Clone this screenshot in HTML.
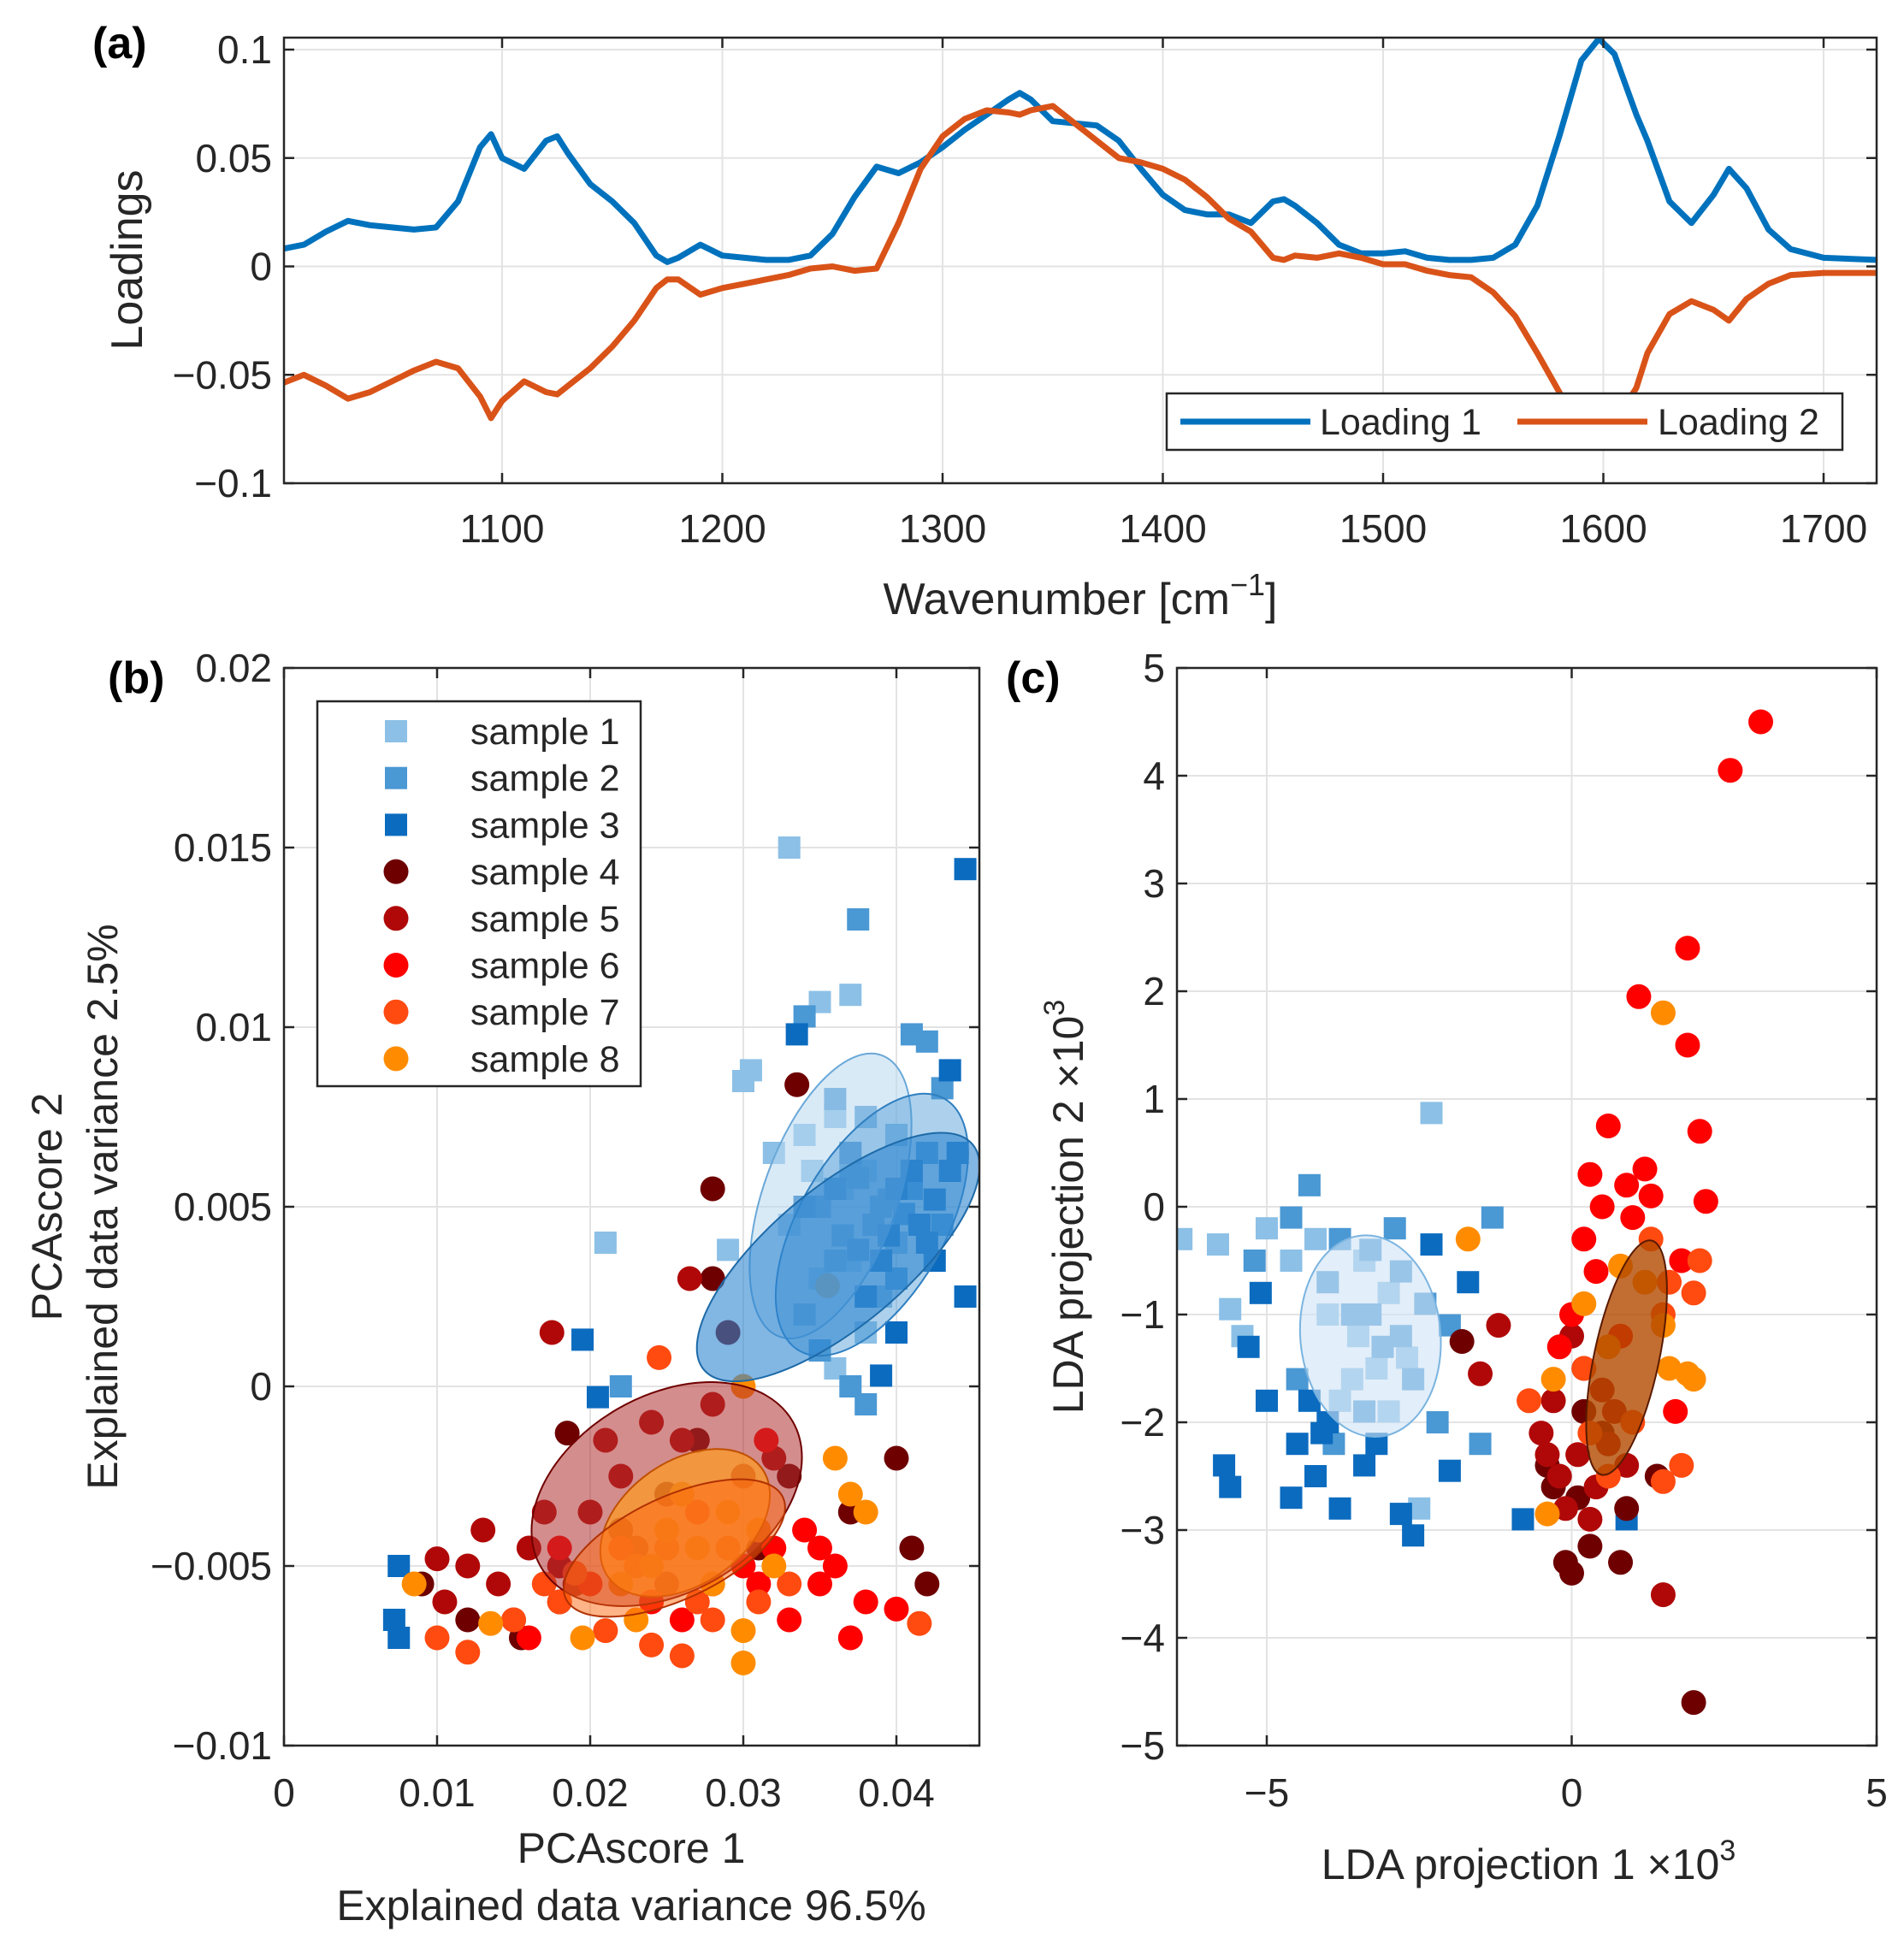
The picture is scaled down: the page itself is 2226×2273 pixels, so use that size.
<!DOCTYPE html>
<html><head><meta charset="utf-8">
<style>
html,body{margin:0;padding:0;background:#fff;}
svg{display:block;font-family:"Liberation Sans",sans-serif;}
</style></head>
<body>
<svg id="fig" width="2226" height="2273" viewBox="0 0 2226 2273" xmlns="http://www.w3.org/2000/svg">
<rect width="2226" height="2273" fill="#fff"/>
</svg>
<script>
// ---------- Panel (a) data ----------
const wavenumbers=[1000,1010,1020,1030,1040,1050,1060,1070,1080,1090,1095,1100,1110,1120,1125,1130,1140,1150,1160,1170,1175,1180,1190,1200,1210,1220,1230,1240,1250,1260,1270,1280,1290,1300,1310,1320,1330,1335,1340,1350,1360,1370,1380,1390,1400,1410,1420,1430,1440,1450,1455,1460,1470,1480,1490,1500,1510,1520,1530,1540,1550,1560,1570,1580,1590,1598,1605,1615,1620,1630,1640,1650,1657,1665,1675,1685,1700,1724];
const loading1=[0.008,0.01,0.016,0.021,0.019,0.018,0.017,0.018,0.03,0.055,0.061,0.05,0.045,0.058,0.06,0.052,0.038,0.03,0.02,0.005,0.002,0.004,0.01,0.005,0.004,0.003,0.003,0.005,0.015,0.032,0.046,0.043,0.048,0.055,0.063,0.07,0.077,0.08,0.077,0.067,0.066,0.065,0.058,0.045,0.033,0.026,0.024,0.024,0.02,0.03,0.031,0.028,0.02,0.01,0.006,0.006,0.007,0.004,0.003,0.003,0.004,0.01,0.028,0.06,0.095,0.105,0.098,0.07,0.058,0.03,0.02,0.033,0.045,0.036,0.017,0.008,0.004,0.003];
const loading2=[-0.054,-0.05,-0.055,-0.061,-0.058,-0.053,-0.048,-0.044,-0.047,-0.06,-0.07,-0.062,-0.053,-0.058,-0.059,-0.055,-0.047,-0.037,-0.025,-0.01,-0.006,-0.006,-0.013,-0.01,-0.008,-0.006,-0.004,-0.001,0,-0.002,-0.001,0.02,0.045,0.06,0.068,0.072,0.071,0.07,0.072,0.074,0.066,0.058,0.05,0.048,0.045,0.04,0.032,0.022,0.016,0.004,0.003,0.005,0.004,0.006,0.004,0.001,0.001,-0.002,-0.004,-0.005,-0.012,-0.023,-0.04,-0.058,-0.075,-0.08,-0.072,-0.056,-0.04,-0.022,-0.016,-0.02,-0.025,-0.015,-0.008,-0.004,-0.003,-0.003];
const aXTicks=[1100,1200,1300,1400,1500,1600,1700];
const aYTicks=[0.1,0.05,0,-0.05,-0.1];
const aYTickLabels=["0.1","0.05","0","\u22120.05","\u22120.1"];

// ---------- Panel (b) data (PCA scores) ----------
const pcaX=[
[0.033,0.035,0.037,0.030,0.021,0.029,0.036,0.038,0.040,0.034,0.032,0.038,0.036,0.039,0.033,0.035,0.0305,0.037,0.0345,0.0365],
[0.0375,0.041,0.042,0.043,0.034,0.036,0.038,0.040,0.042,0.037,0.035,0.039,0.041,0.043,0.036,0.034,0.037,0.038,0.022,0.035,0.040,0.0385,0.0395,0.0365,0.0405,0.0375],
[0.0445,0.0335,0.0435,0.044,0.0435,0.0445,0.040,0.042,0.037,0.039,0.041,0.036,0.038,0.039,0.0195,0.0205,0.0075,0.0072,0.0075,0.034,0.040,0.0425,0.0415,0.0395,0.0375,0.0425],
[0.0335,0.028,0.0185,0.040,0.041,0.042,0.028,0.029,0.033,0.037,0.025,0.0155,0.009,0.012,0.022,0.031,0.018,0.027],
[0.0265,0.0175,0.010,0.0105,0.013,0.014,0.016,0.018,0.020,0.022,0.024,0.026,0.028,0.015,0.012,0.019,0.023,0.030,0.032,0.021,0.017,0.025],
[0.0315,0.034,0.035,0.037,0.040,0.016,0.020,0.024,0.028,0.030,0.032,0.036,0.038,0.033,0.026,0.022,0.018,0.027,0.031,0.035],
[0.0415,0.010,0.012,0.015,0.018,0.021,0.024,0.026,0.027,0.029,0.025,0.023,0.031,0.019,0.033,0.0245,0.017,0.028],
[0.0085,0.0135,0.0195,0.023,0.030,0.030,0.036,0.037,0.038,0.025,0.027,0.029,0.031,0.024,0.028,0.026,0.0355,0.032,0.022,0.030]];
const pcaY=[
[0.015,0.0107,0.0109,0.0085,0.004,0.0038,0.0075,0.006,0.004,0.007,0.0065,0.0015,0.0005,0.0025,0.0045,0.003,0.0088,0.0035,0.006,0.0055],
[0.013,0.0098,0.0096,0.0083,0.0103,0.008,0.0075,0.007,0.0065,0.006,0.005,0.005,0.0055,0.0045,0.0035,0.002,0.0,-0.0005,0.0,0.001,0.003,0.0045,0.0052,0.0042,0.0048,0.0058],
[0.0144,0.0098,0.0088,0.0065,0.006,0.0025,0.0055,0.004,0.0065,0.0035,0.006,0.0055,0.0025,0.0003,0.0013,-0.0003,-0.005,-0.0065,-0.007,0.005,0.0015,0.0035,0.0045,0.0042,0.0038,0.0052],
[0.0084,0.0055,-0.0013,-0.002,-0.0045,-0.0055,0.003,0.0015,-0.0025,-0.0035,-0.003,-0.007,-0.0055,-0.0065,-0.004,-0.0045,-0.006,-0.0015],
[0.003,0.0015,-0.0048,-0.006,-0.004,-0.0055,-0.0045,-0.005,-0.0035,-0.0025,-0.001,-0.0015,-0.0005,-0.0065,-0.005,-0.0055,-0.0045,-0.0025,-0.002,-0.0015,-0.0035,-0.0055],
[-0.0015,-0.004,-0.0055,-0.007,-0.0062,-0.007,-0.0055,-0.006,-0.0055,-0.005,-0.0045,-0.005,-0.006,-0.0065,-0.0065,-0.0045,-0.0045,-0.0035,-0.0055,-0.0045],
[-0.0066,-0.007,-0.0074,-0.0065,-0.006,-0.0068,-0.0072,-0.0075,-0.006,-0.0045,-0.0045,-0.005,-0.006,-0.0052,-0.0055,0.0008,-0.0055,-0.0065],
[-0.0055,-0.0066,-0.007,-0.0065,-0.0077,-0.0068,-0.002,-0.003,-0.0035,-0.004,-0.0045,-0.0035,-0.004,-0.005,-0.0055,-0.003,0.0028,-0.005,-0.0055,0.0]];
const bXTicks=[0,0.01,0.02,0.03,0.04];
const bXTickLabels=["0","0.01","0.02","0.03","0.04"];
const bYTicks=[0.02,0.015,0.01,0.005,0,-0.005,-0.01];
const bYTickLabels=["0.02","0.015","0.01","0.005","0","\u22120.005","\u22120.01"];
const bEllCX=[0.0357,0.0384,0.0362,0.025,0.0262,0.0255];
const bEllCY=[0.0053,0.0045,0.0036,-0.003,-0.0038,-0.0045];

// ---------- Panel (c) data (LDA) ----------
const ldaX=[
[-6.4,-5.8,-5.6,-5.0,-4.6,-4.0,-3.5,-3.0,-2.3,-2.5,-3.2,-3.8,-4.2,-2.7,-3.4,-5.4,-3.0,-3.6],
[-4.6,-4.3,-3.8,-3.3,-2.8,-2.4,-2.0,-1.3,-3.6,-3.1,-2.6,-2.2,-1.5,-3.9,-4.5,-5.2,-4.0,-3.4,-2.9,-3.3,-2.8],
[-5.1,-5.3,-5.0,-5.7,-5.6,-4.5,-4.2,-4.6,-3.8,-3.4,-2.8,-2.6,-2.0,-1.7,-2.3,-0.8,0.9,-4.3,-4.1,-3.2,-4.0],
[2.0,-1.8,-0.3,-0.1,0.0,0.3,0.8,1.4,0.5,0.2,-0.4,0.9,0.1],
[1.5,-1.2,-1.5,-0.5,-0.2,0.1,0.4,0.6,-0.3,0.2,0.0,0.7,-0.1,0.3,0.9,-0.4,0.5],
[3.1,2.6,1.9,1.1,1.9,2.1,0.6,0.3,1.2,2.2,0.5,1.0,0.2,1.8,0.0,-0.2,1.7,0.8,0.4,1.3,0.9],
[1.3,1.6,2.1,1.5,1.8,-0.7,0.2,1.0,0.6,1.5,0.3,2.0],
[1.5,-1.7,1.5,1.9,2.0,1.6,-0.4,0.6,0.2,-0.3,1.2,0.8]];
const ldaY=[
[-0.3,-0.35,-0.95,-0.2,-0.5,-1.0,-1.2,-0.8,0.87,-2.8,-1.5,-1.8,-0.3,-1.4,-0.5,-1.2,-1.9,-1.6],
[-0.1,0.2,-0.3,-0.4,-0.6,-0.9,-1.1,-0.1,-1.0,-1.3,-1.6,-2.0,-2.2,-2.2,-1.6,-0.5,-0.7,-1.9,-0.2,-1.0,-1.2],
[-0.8,-1.3,-1.8,-2.4,-2.6,-2.2,-2.5,-2.7,-2.8,-2.4,-2.85,-3.05,-2.45,-0.7,-0.35,-2.9,-2.9,-1.8,-2.1,-2.2,-2.0],
[-4.6,-1.25,-2.6,-3.3,-3.4,-3.15,-3.3,-2.5,-2.1,-1.9,-2.4,-2.8,-2.7],
[-3.6,-1.1,-1.55,-2.1,-2.5,-2.3,-2.6,-2.2,-1.8,-1.5,-1.2,-1.9,-2.8,-2.9,-2.4,-2.3,-1.7],
[4.5,4.05,2.4,1.95,1.5,0.7,0.75,0.3,0.35,0.05,0.0,-0.1,-0.3,-0.5,-1.0,-1.3,-1.9,-1.2,-0.6,0.1,0.2],
[-0.3,-0.7,-0.5,-1.0,-2.4,-1.8,-1.5,-2.0,-2.5,-2.55,-2.1,-0.8],
[1.8,-0.3,-1.1,-1.55,-1.6,-1.5,-2.85,-1.3,-0.9,-1.6,-0.7,-0.55]];
const cXTicks=[-5,0,5];
const cXTickLabels=["\u22125","0","5"];
const cYTicks=[5,4,3,2,1,0,-1,-2,-3,-4,-5];
const cYTickLabels=["5","4","3","2","1","0","\u22121","\u22122","\u22123","\u22124","\u22125"];
const cEllCX=[-3.3,0.9];
const cEllCY=[-1.2,-1.4];

const sampleNames=["sample 1","sample 2","sample 3","sample 4","sample 5","sample 6","sample 7","sample 8"];
const sampleColors=["#8cc0e6","#4a98d4","#0b6bbf","#6e0000","#b00808","#ff0000","#ff4a10","#ff8c00"];

// ---------- helpers ----------
const NS="http://www.w3.org/2000/svg";
const svg=document.getElementById('fig');
function mk(tag,attrs,parent){const e=document.createElementNS(NS,tag);for(const k in attrs)e.setAttribute(k,attrs[k]);(parent||svg).appendChild(e);return e;}
function txt(s,attrs,parent){const e=mk('text',attrs,parent);e.textContent=s;return e;}
function scale(d0,d1,p0,p1){return v=>p0+(v-d0)/(d1-d0)*(p1-p0);}

function axesFrame(g,L,T,R,B,xs,ys,xt,yt,name){
  const grid=mk('g',{},g);
  
  
  xt.forEach(v=>{const x=xs(v);mk('line',{x1:x,y1:T,x2:x,y2:B,stroke:'#e3e3e3','stroke-width':2},grid);});
  yt.forEach(v=>{const y=ys(v);mk('line',{x1:L,y1:y,x2:R,y2:y,stroke:'#e3e3e3','stroke-width':2},grid);});
}
function axesBox(g,L,T,R,B,xs,ys,xt,xl,yt,yl,name,xlabY){
  const ax=mk('g',{},g);
  
  
  mk('rect',{x:L,y:T,width:R-L,height:B-T,fill:'none',stroke:'#262626','stroke-width':2.5},ax);
  xt.forEach((v,i)=>{const x=xs(v);
    mk('line',{x1:x,y1:B,x2:x,y2:B-12,stroke:'#262626','stroke-width':2.5},ax);
    mk('line',{x1:x,y1:T,x2:x,y2:T+12,stroke:'#262626','stroke-width':2.5},ax);
    const t=txt(xl[i],{x:x,y:xlabY,'text-anchor':'middle','font-size':46,fill:'#262626'},ax);
    
    
  });
  yt.forEach((v,i)=>{const y=ys(v);
    mk('line',{x1:L,y1:y,x2:L+12,y2:y,stroke:'#262626','stroke-width':2.5},ax);
    mk('line',{x1:R,y1:y,x2:R-12,y2:y,stroke:'#262626','stroke-width':2.5},ax);
    const t=txt(yl[i],{x:L-14,y:y+16,'text-anchor':'end','font-size':46,fill:'#262626'},ax);
    
    
  });
}
function marker(g,k,x,y){
  if(k<3){return mk('rect',{x:x-13,y:y-13,width:26,height:26,fill:sampleColors[k]},g);}
  return mk('circle',{cx:x,cy:y,r:14.5,fill:sampleColors[k]},g);
}

// ---------- Panel (a) ----------
const aL=332,aT=44,aR=2194,aB=565;
const axs=scale(1100,1700,587,2132);
const ays=scale(0.1,-0.1,58,565);
const gA=mk('g',{});


axesFrame(gA,aL,aT,aR,aB,axs,ays,aXTicks,aYTicks,'panel-a');
const clipA=mk('clipPath',{id:'clipA'},gA);mk('rect',{x:aL,y:aT,width:aR-aL,height:aB-aT},clipA);
[loading1,loading2].forEach((arr,si)=>{
  const d=arr.map((v,i)=>(i?'L':'M')+axs(wavenumbers[i]).toFixed(1)+','+ays(v).toFixed(1)).join(' ');
  const p=mk('path',{d:d,fill:'none',stroke:si?'#d95319':'#0072bd','stroke-width':7,'stroke-linejoin':'round','clip-path':'url(#clipA)'},gA);
  
  
});
axesBox(gA,aL,aT,aR,aB,axs,ays,aXTicks,aXTicks.map(String),aYTicks,aYTickLabels,'panel-a',634);
const legA=mk('g',{},gA);


mk('rect',{x:1364,y:460,width:790,height:66,fill:'#fff',stroke:'#262626','stroke-width':2.5},legA);
mk('line',{x1:1380,y1:493,x2:1532,y2:493,stroke:'#0072bd','stroke-width':7},legA);
txt('Loading 1',{x:1543,y:508,'font-size':43,fill:'#262626'},legA);
mk('line',{x1:1774,y1:493,x2:1926,y2:493,stroke:'#d95319','stroke-width':7},legA);
txt('Loading 2',{x:1938,y:508,'font-size':43,fill:'#262626'},legA);
let t;
t=txt('Loadings',{x:0,y:0,'font-size':52,fill:'#262626','text-anchor':'middle',transform:'translate(166,304) rotate(-90)'});

t=mk('text',{x:1263,y:718,'font-size':52,fill:'#262626','text-anchor':'middle'});
t.innerHTML='Wavenumber [cm<tspan dy="-22" font-size="36">−1</tspan><tspan dy="22">]</tspan>';

t=txt('(a)',{x:108,y:68,'font-size':52,'font-weight':'bold',fill:'#000'});


// ---------- Panel (b) ----------
const bL=332,bT=781,bR=1145,bB=2041;
const bxs=scale(0,0.04,332,1048);
const bys=scale(0.02,-0.01,781,2041);
const gB=mk('g',{});


axesFrame(gB,bL,bT,bR,bB,bxs,bys,bXTicks,bYTicks,'panel-b');
const clipB=mk('clipPath',{id:'clipB'},gB);mk('rect',{x:bL,y:bT,width:bR-bL,height:bB-bT},clipB);
const ptsB=mk('g',{'clip-path':'url(#clipB)'},gB);
for(let k=0;k<8;k++){
  const sg=mk('g',{},ptsB);
  
  
  pcaX[k].forEach((v,i)=>{const m=marker(sg,k,bxs(v),bys(pcaY[k][i]));
    
    });
}
const bEllStyle=[[175,78,-70,'#b9d8f0',0.55,'#6aa8d8'],[170,85,-60,'#4a98d4',0.45,'#2f7fc0'],[205,80,-40,'#2f86d0',0.6,'#1d6aa8'],[170,115,-30,'#b03030',0.55,'#700000'],[110,72,-35,'#ff9a20',0.7,'#c05000'],[140,60,-25,'#ff6a10',0.5,'#b03000']];
bEllCX.forEach((cx,i)=>{const s=bEllStyle[i];const x=bxs(cx),y=bys(bEllCY[i]);
  const e=mk('ellipse',{cx:x,cy:y,rx:s[0],ry:s[1],transform:`rotate(${s[2]} ${x} ${y})`,fill:s[3],'fill-opacity':s[4],stroke:s[5],'stroke-width':2},ptsB);
  
  
});
axesBox(gB,bL,bT,bR,bB,bxs,bys,bXTicks,bXTickLabels,bYTicks,bYTickLabels,'panel-b',2112);
const legB=mk('g',{},gB);


mk('rect',{x:371,y:820,width:378,height:450,fill:'#fff',stroke:'#262626','stroke-width':2.5},legB);
sampleNames.forEach((n,k)=>{const y=855+k*54.7;
  const e=mk('g',{},legB);
  
  
  if(k<3)mk('rect',{x:450,y:y-13,width:26,height:26,fill:sampleColors[k]},e);
  else mk('circle',{cx:463,cy:y,r:14.5,fill:sampleColors[k]},e);
  txt(n,{x:550,y:y+15,'font-size':43,fill:'#262626'},e);
});
t=txt('PCAscore 1',{x:738,y:2178,'font-size':50,fill:'#262626','text-anchor':'middle'});

t=txt('Explained data variance 96.5%',{x:738,y:2245,'font-size':50,fill:'#262626','text-anchor':'middle'});

t=txt('PCAscore 2',{x:0,y:0,'font-size':50,fill:'#262626','text-anchor':'middle',transform:'translate(72,1411) rotate(-90)'});

t=txt('Explained data variance 2.5%',{x:0,y:0,'font-size':50,fill:'#262626','text-anchor':'middle',transform:'translate(137,1411) rotate(-90)'});

t=txt('(b)',{x:126,y:810,'font-size':52,'font-weight':'bold',fill:'#000'});


// ---------- Panel (c) ----------
const cL=1376,cT=781,cR=2194,cB=2041;
const cxs=scale(-5,5,1481,2194);
const cys=scale(5,-5,781,2041);
const gC=mk('g',{});


axesFrame(gC,cL,cT,cR,cB,cxs,cys,cXTicks,cYTicks,'panel-c');
const clipC=mk('clipPath',{id:'clipC'},gC);mk('rect',{x:cL,y:cT,width:cR-cL,height:cB-cT},clipC);
const ptsC=mk('g',{'clip-path':'url(#clipC)'},gC);
for(let k=0;k<8;k++){
  const sg=mk('g',{},ptsC);
  
  
  ldaX[k].forEach((v,i)=>{const m=marker(sg,k,cxs(v),cys(ldaY[k][i]));
    
    });
}
const cEllStyle=[[82,118,-5,'#cfe3f5',0.6,'#7ab4e0'],[38,140,12,'#b34a00',0.8,'#5a1a00']];
cEllCX.forEach((cx,i)=>{const s=cEllStyle[i];const x=cxs(cx),y=cys(cEllCY[i]);
  const e=mk('ellipse',{cx:x,cy:y,rx:s[0],ry:s[1],transform:`rotate(${s[2]} ${x} ${y})`,fill:s[3],'fill-opacity':s[4],stroke:s[5],'stroke-width':2},ptsC);
  
  
});
axesBox(gC,cL,cT,cR,cB,cxs,cys,cXTicks,cXTickLabels,cYTicks,cYTickLabels,'panel-c',2112);
t=mk('text',{x:1787,y:2197,'font-size':50,fill:'#262626','text-anchor':'middle'});
t.innerHTML='LDA projection 1 ×10<tspan dy="-22" font-size="34">3</tspan>';

t=mk('text',{x:0,y:0,'font-size':50,fill:'#262626','text-anchor':'middle',transform:'translate(1266,1411) rotate(-90)'});
t.innerHTML='LDA projection 2 ×10<tspan dy="-22" font-size="34">3</tspan>';

t=txt('(c)',{x:1176,y:810,'font-size':52,'font-weight':'bold',fill:'#000'});

</script>
</body></html>
